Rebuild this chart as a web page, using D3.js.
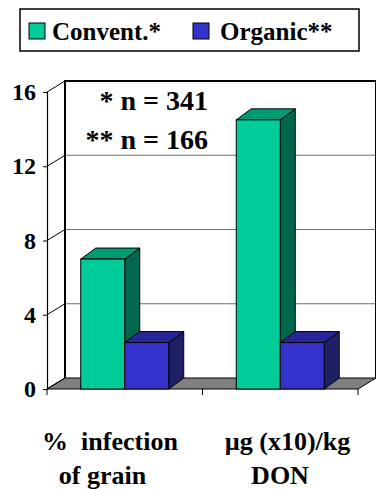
<!DOCTYPE html>
<html>
<head>
<meta charset="utf-8">
<script src="https://cdn.jsdelivr.net/npm/d3@7/dist/d3.min.js"></script>
<style>
  html, body { margin: 0; padding: 0; background: #fff; }
  svg { display: block; }
</style>
</head>
<body>
<svg id="chart" width="376" height="489"></svg>
<script>
// Data
const categories = ["% infection of grain", "µg (x10)/kg DON"];
const categoryLines = [["%  infection", "of grain"], ["µg (x10)/kg", "DON"]];
const series = ["Convent.*", "Organic**"];
const conventional = [7.0, 14.5];
const organic = [2.5, 2.5];
const yTicks = [0, 4, 8, 12, 16];
const notes = ["* n = 341", "** n = 166"];

const values = [conventional, organic];
const colors = [
  { front: "#00cc99", top: "#009a73", side: "#00664d" },
  { front: "#3333cc", top: "#26269a", side: "#1f1f66" }
];
const FONT = "Liberation Serif";

// Bold serif text helper
function serif(sel, size) {
  return sel.attr("font-family", FONT)
    .attr("font-weight", "bold")
    .attr("font-size", size)
    .style("font", `bold ${size}px "Liberation Serif", Tinos, Times, serif`)
    .attr("fill", "#000");
}

const svg = d3.select("#chart");

// Layout of the 3-D box
const left = 47, right = 358, baseY = 389, topY = 92;
const wallDx = 18, wallDy = -11;   // depth of walls
const barDx = 15, barDy = -11;     // depth of bars

const y = d3.scaleLinear().domain([0, 16]).range([baseY, topY]);
const x0 = d3.scaleBand().domain(categories).range([left, right]).paddingInner(0).paddingOuter(0);
const x1 = d3.scaleBand().domain(series).range([0, x0.bandwidth()]).paddingInner(0).paddingOuter(0.767);

const g = svg.append("g");

// Floor
const floor = [[left, baseY], [right, baseY], [right + wallDx, baseY + wallDy], [left + wallDx, baseY + wallDy]];
g.append("polygon").attr("points", floor.map(p => p.join(",")).join(" "))
  .attr("fill", "#808080").attr("stroke", "#000").attr("stroke-width", 1);

// Back wall gridlines
g.selectAll("line.grid").data(yTicks.filter(d => d > 0 && d < 16)).join("line")
  .attr("class", "grid")
  .attr("x1", left + wallDx).attr("x2", right + wallDx)
  .attr("y1", d => y(d) + wallDy).attr("y2", d => y(d) + wallDy)
  .attr("stroke", "#6e6e6e").attr("stroke-width", 1);

// Side wall diagonals
g.selectAll("line.diag").data(yTicks).join("line")
  .attr("class", "diag")
  .attr("x1", left).attr("y1", d => y(d))
  .attr("x2", left + wallDx).attr("y2", d => y(d) + wallDy)
  .attr("stroke", "#000").attr("stroke-width", 1);

// Back wall outline
g.append("path")
  .attr("d", `M${left + wallDx},${baseY + wallDy}V${y(16) + wallDy}H${right + wallDx}V${baseY + wallDy}`)
  .attr("fill", "none").attr("stroke", "#000").attr("stroke-width", 2);

// Front axis and ticks
const yAxis = d3.axisLeft(y).tickValues(yTicks).tickSize(4).tickPadding(7);
const axG = g.append("g").attr("transform", `translate(${left},0)`).call(yAxis);
axG.attr("font-family", FONT).attr("font-size", 24);
axG.select(".domain").attr("stroke", "#000").attr("stroke-width", 1.2);
axG.selectAll(".tick line").attr("stroke", "#000");
serif(axG.selectAll(".tick text"), 24);

// Category separators below the floor
g.selectAll("line.ctick").data([left, x0(categories[1]), right]).join("line")
  .attr("class", "ctick")
  .attr("x1", d => d).attr("x2", d => d).attr("y1", baseY).attr("y2", baseY + 6)
  .attr("stroke", "#000");

// Sample sizes on the back wall
serif(g.selectAll("text.note").data(notes).join("text")
  .attr("class", "note")
  .attr("x", 208).attr("y", (d, i) => 110 + i * 39)
  .attr("text-anchor", "end")
  .text(d => d), 28);

// 3-D bars
const bars = [];
categories.forEach((c, ci) => {
  series.forEach((s, si) => {
    bars.push({ c, s, si, v: values[si][ci] });
  });
});

const barG = g.selectAll("g.bar").data(bars).join("g").attr("class", "bar");
barG.each(function (d) {
  const el = d3.select(this);
  const x = x0(d.c) + x1(d.s), w = x1.bandwidth();
  const yt = y(d.v), yb = y(0);
  const col = colors[d.si];
  const pts = a => a.map(p => p.join(",")).join(" ");
  el.append("polygon")
    .attr("points", pts([[x + w, yt], [x + w + barDx, yt + barDy], [x + w + barDx, yb + barDy], [x + w, yb]]))
    .attr("fill", col.side).attr("stroke", "#000").attr("stroke-width", 1).attr("stroke-linejoin", "round");
  el.append("polygon")
    .attr("points", pts([[x, yt], [x + barDx, yt + barDy], [x + w + barDx, yt + barDy], [x + w, yt]]))
    .attr("fill", col.top).attr("stroke", "#000").attr("stroke-width", 1).attr("stroke-linejoin", "round");
  el.append("rect")
    .attr("x", x).attr("y", yt).attr("width", w).attr("height", yb - yt)
    .attr("fill", col.front).attr("stroke", "#000").attr("stroke-width", 1);
});

// Category labels
const lineCenters = [[110, 102.5], [287.5, 280]];
categories.forEach((c, ci) => {
  categoryLines[ci].forEach((ln, li) => {
    serif(svg.append("text")
      .attr("x", lineCenters[ci][li]).attr("y", 450 + li * 34)
      .attr("text-anchor", "middle")
      .attr("xml:space", "preserve")
      .text(ln), 26);
  });
});

// Legend
const leg = svg.append("g");
leg.append("rect").attr("x", 20).attr("y", 9).attr("width", 339).attr("height", 42)
  .attr("fill", "#fff").attr("stroke", "#000").attr("stroke-width", 1.5);
const legX = [29, 193];
series.forEach((s, i) => {
  leg.append("rect").attr("x", legX[i]).attr("y", 23).attr("width", 16).attr("height", 16)
    .attr("fill", colors[i].front).attr("stroke", "#000").attr("stroke-width", 1);
  serif(leg.append("text").attr("x", legX[i] + 23 + (i ? 4 : 0)).attr("y", 40)
    .text(s), 25);
});
</script>
</body>
</html>
